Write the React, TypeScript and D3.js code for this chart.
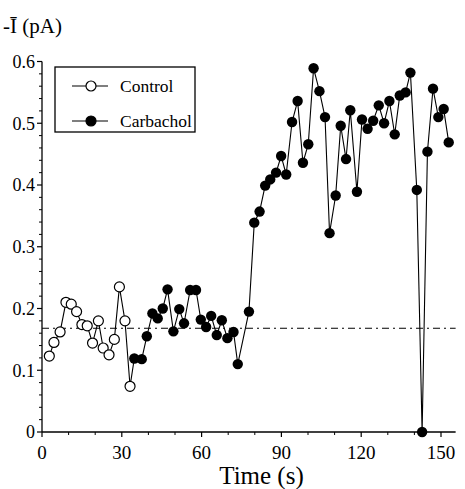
import React from "react";
import * as d3 from "d3";

const controlT = [2.75, 4.5, 6.8, 9, 11, 13, 15, 17, 19, 21.2, 23, 25.2, 27.2, 29.1, 31.2, 33.1];
const controlV = [0.123, 0.145, 0.162, 0.21, 0.207, 0.195, 0.174, 0.172, 0.144, 0.18, 0.136, 0.125, 0.15, 0.235, 0.18, 0.074];

const carbT = [34.7, 37.5, 39.4, 41.5, 43.5, 45.4, 47.2, 49.4, 51.6, 53.4, 55.7, 57.9, 59.7, 61.7, 63.6, 65.7, 67.6, 69.7, 72, 73.6, 77.8, 79.8, 81.8, 83.9, 85.8, 88, 89.9, 91.8, 94, 96.1, 98.1, 100.1, 102.1, 104.3, 106.4, 108.1, 110.4, 112.3, 114.3, 115.9, 118.4, 120.3, 122.4, 124.5, 126.6, 128.6, 130.6, 132.6, 134.5, 136.7, 138.5, 140.9, 142.9, 144.9, 147, 149, 151, 152.9];
const carbV = [0.119, 0.118, 0.155, 0.192, 0.184, 0.2, 0.231, 0.163, 0.199, 0.176, 0.23, 0.23, 0.182, 0.17, 0.188, 0.157, 0.181, 0.152, 0.162, 0.11, 0.195, 0.339, 0.357, 0.399, 0.409, 0.42, 0.447, 0.417, 0.502, 0.536, 0.436, 0.466, 0.589, 0.552, 0.51, 0.322, 0.383, 0.496, 0.442, 0.521, 0.389, 0.506, 0.491, 0.504, 0.529, 0.5, 0.536, 0.482, 0.545, 0.55, 0.582, 0.392, 0, 0.454, 0.556, 0.51, 0.523, 0.469];

const baselineV = 0.168;
const xTicks = [0, 30, 60, 90, 120, 150];
const yTicks = [0, 0.1, 0.2, 0.3, 0.4, 0.5, 0.6];
const legendLabels = ["Control", "Carbachol"];

const FONT = "'Liberation Serif', 'DejaVu Serif', serif";

export default function App() {
  const x = d3.scaleLinear().domain([0, 150]).range([42, 441]);
  const y = d3.scaleLinear().domain([0, 0.6]).range([432, 61.5]);
  const xEnd = x(155.5);

  const control = controlT.map((t, i) => [t, controlV[i]] as [number, number]);
  const carb = carbT.map((t, i) => [t, carbV[i]] as [number, number]);
  const all = control.concat(carb);
  const line = d3.line<[number, number]>().x((d) => x(d[0])).y((d) => y(d[1]));

  const xMinor = d3.range(0, 156, 10).filter((v) => v % 30 !== 0);
  const yMinor = d3.range(0, 0.601, 0.02).filter((v) => Math.abs(Math.round(v * 10) - v * 10) > 0.01);

  return (
    <svg width={465} height={489} style={{ position: "absolute", left: 0, top: 0, background: "#fff" }}
      fontFamily={FONT}>
      {/* y label */}
      <text x={3} y={33} fontSize={21} fill="#000">-Ī (pA)</text>

      {/* axes */}
      <line x1={x(0)} x2={x(0)} y1={y(0)} y2={y(0.6)} stroke="#000" strokeWidth={1.3} />
      <line x1={x(0)} x2={xEnd} y1={y(0)} y2={y(0)} stroke="#000" strokeWidth={1.3} />
      {yTicks.map((v) => (
        <g key={"yt" + v}>
          <line x1={x(0) - 5} x2={x(0)} y1={y(v)} y2={y(v)} stroke="#000" strokeWidth={1.2} />
          <text x={x(0) - 7} y={y(v)} dy="0.35em" textAnchor="end" fontSize={18}>{d3.format("")(v)}</text>
        </g>
      ))}
      {yMinor.map((v) => (
        <line key={"ym" + v} x1={x(0) - 3} x2={x(0)} y1={y(v)} y2={y(v)} stroke="#000" strokeWidth={1} />
      ))}
      {xTicks.map((v) => (
        <g key={"xt" + v}>
          <line x1={x(v)} x2={x(v)} y1={y(0)} y2={y(0) + 5} stroke="#000" strokeWidth={1.2} />
          <text x={x(v)} y={y(0) + 27} textAnchor="middle" fontSize={19}>{v}</text>
        </g>
      ))}
      {xMinor.map((v) => (
        <line key={"xm" + v} x1={x(v)} x2={x(v)} y1={y(0)} y2={y(0) + 3} stroke="#000" strokeWidth={1} />
      ))}
      <text x={(x(60) + x(90)) / 2 + 20} y={484} textAnchor="middle" fontSize={25}>Time (s)</text>

      {/* baseline dash-dot */}
      <line x1={x(0)} x2={xEnd} y1={y(baselineV)} y2={y(baselineV)} stroke="#000" strokeWidth={1}
        strokeDasharray="7,4,2,4" />

      {/* data line */}
      <path d={line(all) || ""} fill="none" stroke="#000" strokeWidth={1.1} />
      {control.map((d, i) => (
        <circle key={"c" + i} cx={x(d[0])} cy={y(d[1])} r={5} fill="#fff" stroke="#000" strokeWidth={1.2} />
      ))}
      {carb.map((d, i) => (
        <circle key={"k" + i} cx={x(d[0])} cy={y(d[1])} r={5.2} fill="#000" />
      ))}

      {/* legend */}
      <rect x={55} y={67} width={140} height={65} fill="#fff" stroke="#000" strokeWidth={1.3} />
      {legendLabels.map((lab, i) => {
        const cy = 86 + i * 35;
        return (
          <g key={lab}>
            <line x1={72} x2={108} y1={cy} y2={cy} stroke="#000" strokeWidth={1.1} />
            <circle cx={91} cy={cy} r={5} fill={i === 0 ? "#fff" : "#000"} stroke="#000" strokeWidth={1.2} />
            <text x={120} y={cy} dy="0.35em" fontSize={17.5}>{lab}</text>
          </g>
        );
      })}
    </svg>
  );
}
